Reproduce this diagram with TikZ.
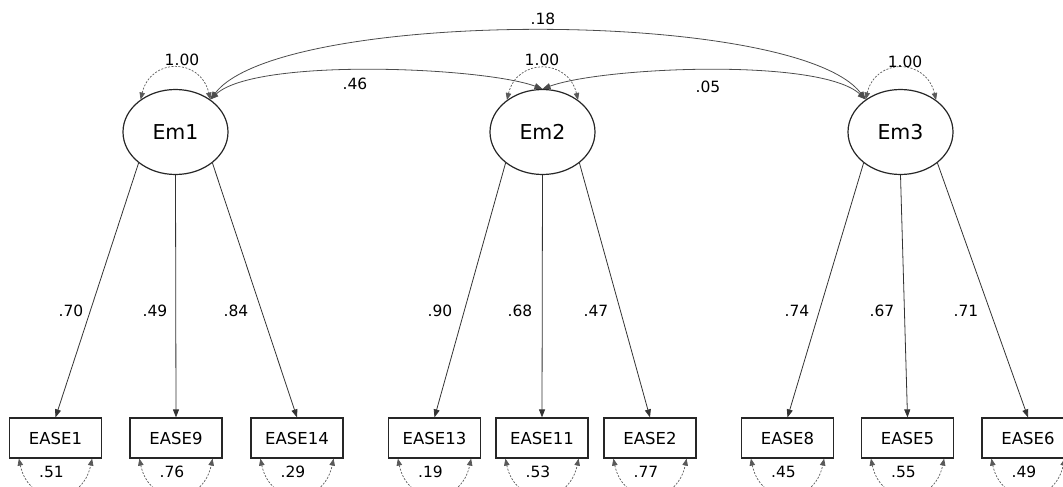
\documentclass[tikz,border=0pt]{standalone}
\usepackage{fontspec}
\setmainfont{DejaVu Sans}
\usetikzlibrary{arrows.meta,shapes.geometric}
\begin{document}
\begin{tikzpicture}[x=1pt,y=-1pt,
  latent/.style={ellipse,draw,line width=1.2pt,black!85,text=black,minimum width=105pt,minimum height=85pt,inner sep=0pt,font=\fontsize{20.5}{20.5}\selectfont},
  obs/.style={rectangle,draw,line width=1.2pt,black!85,text=black,minimum width=92pt,minimum height=40pt,inner sep=0pt,font=\fontsize{16.5}{16.5}\selectfont},
  load/.style={-{Triangle[length=8pt,width=6pt]},line width=0.8pt,black!80},
  cov/.style={{Triangle[length=8pt,width=6pt]}-{Triangle[length=8pt,width=6pt]},line width=0.8pt,black!70},
  var/.style={{Triangle[length=7pt,width=5.5pt]}-{Triangle[length=7pt,width=5.5pt]},line width=0.7pt,black!65,dash pattern=on 2pt off 1.5pt},
  lbl/.style={font=\fontsize{15.5}{15.5}\selectfont,inner sep=0pt}]
\useasboundingbox (0,0) rectangle (1063,487);
\clip (0,0) rectangle (1063,487);

% latent variables
\node[latent] (Em1) at (175.5,132) {Em1};
\node[latent] (Em2) at (542.5,132) {Em2};
\node[latent] (Em3) at (900.5,132) {Em3};

% observed variables
\foreach \n/\x in {EASE1/55.5,EASE9/176,EASE14/297,EASE13/434.5,EASE11/542,EASE2/650,EASE8/787.5,EASE5/907.5,EASE6/1028}
  \node[obs] (\n) at (\x,438) {\n};

% loadings
\draw[load] (Em1.220) -- (EASE1.north);
\draw[load] (Em1.south) -- (EASE9.north);
\draw[load] (Em1.320) -- (EASE14.north);
\draw[load] (Em2.220) -- (EASE13.north);
\draw[load] (Em2.south) -- (EASE11.north);
\draw[load] (Em2.320) -- (EASE2.north);
\draw[load] (Em3.220) -- (EASE8.north);
\draw[load] (Em3.south) -- (EASE5.north);
\draw[load] (Em3.320) -- (EASE6.north);

% loading labels
\foreach \nm/\x/\t in {l1/71/.70,l2/155/.49,l3/236/.84,l4/440/.90,l5/520/.68,l6/596/.47,l7/797/.74,l8/882/.67,l9/966/.71}
  \node[lbl] (\nm) at (\x,311) {\t};

% covariances
\draw[cov] (Em1.43) .. controls (280,8) and (796,8) .. (Em3.137);
\draw[cov] (Em1.43) .. controls +(45,-42) and +(-60,-22) .. (Em2.north);
\draw[cov] (Em3.137) .. controls +(-45,-42) and +(60,-22) .. (Em2.north);
\node[lbl] (c18) at (543,19) {.18};
\node[lbl] (c46) at (355,84) {.46};
\node[lbl] (c05) at (708,87) {.05};

% latent variances
\draw[var] (Em1.137) .. controls +(10,-42) and +(-10,-42) .. (Em1.43);
\draw[var] (Em2.138) .. controls +(10,-42) and +(-10,-42) .. (Em2.42);
\draw[var] (Em3.137) .. controls +(10,-42) and +(-10,-42) .. (Em3.42);
\node[lbl] (v1) at (182,60) {1.00};
\node[lbl] (v2) at (542,60) {1.00};
\node[lbl] (v3) at (905,62) {1.00};

% error variances
\foreach \n/\nm/\t in {EASE1/e1/.51,EASE9/e2/.76,EASE14/e3/.29,EASE13/e4/.19,EASE11/e5/.53,EASE2/e6/.77,EASE8/e7/.45,EASE5/e8/.55,EASE6/e9/.49}{
  \draw[var] ([xshift=10pt]\n.south west) .. controls +(10,48) and +(-10,48) .. ([xshift=-10pt]\n.south east);
  \node[lbl] (\nm) at ([xshift=-4pt,yshift=-34pt]\n.center) {\t};
}
\end{tikzpicture}
\end{document}
